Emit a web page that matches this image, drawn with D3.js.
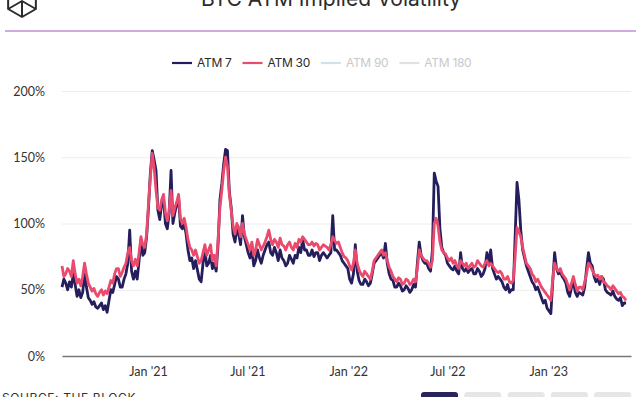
<!DOCTYPE html>
<html>
<head>
<meta charset="utf-8">
<script src="https://cdn.jsdelivr.net/npm/d3@7"></script>
<style>
  body { margin: 0; background: #fff; }
  svg { display: block; }
</style>
</head>
<body>
<div id="chart"></div>
<script>
// series (twice-weekly samples)
const startDate = new Date(2020, 6, 28)
const stepDays = 3.43

const atm7 = [52,58, 55,50, 56,52, 62,54, 45,50,
  44,48, 62,52, 44,42, 39,41, 37,36,
  38,40, 35,38, 33,42, 50,48, 54,60,
  58,52, 52,58, 62,70, 95,64, 58,64,
  58,72, 88,76, 78,90, 112,138, 155,148,
  140,110, 103,115, 118,100, 96,108, 140,100,
  108,114, 120,98, 96,100, 92,80, 72,74,
  66,72, 65,58, 56,70, 80,68, 70,76,
  66,70, 64,84, 118,130, 145,156, 155,124,
  112,92, 86,96, 92,84, 106,90, 84,78,
  74,80, 68,72, 80,74, 70,76, 80,84,
  86,78, 76,82, 78,72, 80,74, 72,68,
  70,76, 73,70, 76,74, 82,78, 88,80,
  80,76, 76,80, 75,78, 78,72, 76,78,
  76,74, 76,78, 106,80, 80,78, 76,72,
  70,68, 66,58, 55,62, 84,64, 57,54,
  54,58, 56,53, 55,62, 70,72, 74,76,
  78,74, 85,70, 62,58, 57,52, 52,55,
  53,49, 50,53, 51,48, 50,54, 52,70,
  86,76, 72,70, 70,66, 64,80, 138,132,
  128,96, 82,78, 76,70, 68,66, 65,68,
  64,62, 78,66, 64,66, 63,65, 66,62,
  62,66, 64,60, 62,66, 78,70, 80,66,
  62,58, 60,58, 56,52, 50,54, 48,50,
  50,90, 131,118, 95,80, 74,68, 64,60,
  56,54, 50,52, 48,44, 40,42, 36,34,
  32,56, 78,66, 62,64, 60,58, 55,48,
  45,52, 56,48, 45,48, 47,46, 52,66,
  78,70, 68,60, 56,58, 54,60, 58,50,
  48,47, 46,49, 45,43, 42,44, 38,40,
  40]

const atm30 = [68,60, 62,66, 64,60, 72,62, 55,58,
  53,60, 70,62, 55,52, 49,51, 47,45,
  48,50, 46,49, 47,52, 57,55, 62,66,
  66,60, 63,67, 70,78, 82,72, 68,73,
  68,78, 90,84, 82,92, 115,135, 153,142,
  125,112, 110,118, 122,108, 102,110, 125,106,
  112,116, 122,104, 100,104, 97,88, 82,80,
  76,80, 75,70, 72,78, 84,76, 80,84,
  72,76, 68,88, 112,125, 140,150, 143,122,
  110,98, 92,100, 97,90, 100,92, 88,84,
  80,86, 76,80, 88,84, 80,83, 86,90,
  95,88, 84,88, 86,82, 89,84, 83,80,
  84,86, 82,80, 85,82, 88,86, 90,88,
  86,84, 84,86, 83,85, 84,80, 82,84,
  83,82, 80,84, 90,87, 85,86, 82,78,
  75,74, 72,68, 65,70, 80,70, 65,62,
  60,64, 62,60, 58,64, 72,74, 76,78,
  80,76, 78,72, 67,64, 60,58, 56,59,
  58,54, 55,58, 57,54, 55,58, 56,66,
  80,76, 74,72, 72,70, 67,72, 100,104,
  98,86, 80,78, 77,74, 72,74, 70,72,
  68,66, 72,70, 68,70, 66,68, 70,67,
  68,72, 70,68, 67,70, 72,68, 70,68,
  66,64, 63,64, 62,58, 58,60, 56,55,
  57,75, 97,94, 90,82, 76,70, 68,66,
  62,60, 56,58, 55,52, 50,48, 46,44,
  42,58, 70,66, 64,66, 62,60, 58,54,
  50,55, 60,54, 49,52, 52,50, 56,62,
  70,68, 65,62, 60,61, 58,60, 56,55,
  53,52, 50,53, 51,49, 47,48, 45,44,
  42]

const seriesNames = ['ATM 7', 'ATM 30', 'ATM 90', 'ATM 180']
const seriesColors = ['#241f5c', '#ea4a6e', '#cfe2e8', '#e2e2e2']
const seriesVisible = [true, true, false, false]
const yTicks = [0, 50, 100, 150, 200]
const buttonLabels = ['1M', '3M', '6M', '1Y', 'All']

const dates = atm7.map((d, i) => new Date(startDate.getTime() + i * stepDays * 864e5))

const width = 640
const height = 397
const padding = { top: 91, right: 9, bottom: 41, left: 62 }

const svg = d3.select('#chart').append('svg')
  .attr('width', width)
  .attr('height', height)

// header
const logo = svg.append('g')
  .attr('transform', 'translate(22,1)')
  .attr('fill', 'none')
  .attr('stroke', '#2b2b2b')
  .attr('stroke-width', 2)
  .attr('stroke-linejoin', 'round')
const r = 16
const hex = d3.range(6).map(k => {
  const a = Math.PI / 6 + k * Math.PI / 3
  return [r * Math.cos(a), r * Math.sin(a)]
})
logo.append('path').attr('d', 'M' + hex.map(p => p.join(',')).join('L') + 'Z')
logo.append('path').attr('d', `M${hex[0].join(',')}L0,0L${hex[2].join(',')}M0,0L0,${r}`)

svg.append('text')
  .attr('x', 331)
  .attr('y', 6)
  .attr('text-anchor', 'middle')
  .attr('font-family', 'Inter, Roboto, sans-serif')
  .attr('font-size', 21)
  .attr('fill', '#2b2b2b')
  .text('BTC ATM Implied Volatility')

svg.append('line')
  .attr('x1', 5).attr('x2', 636)
  .attr('y1', 31).attr('y2', 31)
  .attr('stroke', '#9e58c2')
  .attr('stroke-width', 1.2)

// legend
const legend = svg.append('g').attr('transform', 'translate(172,63)')
let lx = 0
seriesNames.forEach((name, i) => {
  const item = legend.append('g').attr('transform', `translate(${lx},0)`)
  item.append('line')
    .attr('x1', 0).attr('x2', 20)
    .attr('y1', 0).attr('y2', 0)
    .attr('stroke', seriesColors[i])
    .attr('stroke-width', 2.2)
  const t = item.append('text')
    .attr('x', 25)
    .attr('dy', '0.35em')
    .attr('font-family', 'Inter, Roboto, sans-serif')
    .attr('font-size', 12)
    .attr('letter-spacing', '-0.3')
    .attr('fill', seriesVisible[i] ? '#2b2b2b' : '#c9c9c9')
    .text(name)
  lx += 25 + t.node().getComputedTextLength() + 11
})

// scales
const x = d3.scaleTime()
  .domain([new Date(2020, 6, 28), new Date(2023, 5, 1)])
  .range([padding.left, width - padding.right])

const y = d3.scaleLinear()
  .domain([0, 200])
  .range([height - padding.bottom, padding.top])

// grid + y labels
const yAxis = svg.append('g')
  .attr('transform', `translate(${padding.left},0)`)
  .call(d3.axisLeft(y).tickValues(yTicks).tickSize(-(width - padding.left - padding.right)).tickPadding(17).tickFormat(d => d + '%'))
yAxis.select('.domain').remove()
yAxis.selectAll('line').attr('stroke', '#ececec')
yAxis.selectAll('text')
  .attr('font-family', 'Lato, sans-serif')
  .attr('font-size', 12.5)
  .attr('fill', '#333')

// x axis
const xAxis = svg.append('g')
  .attr('transform', `translate(0,${y(0)})`)
  .call(d3.axisBottom(x).ticks(d3.timeMonth.every(6)).tickSize(0).tickPadding(11).tickFormat(d3.timeFormat("%b '%y")))
xAxis.select('.domain')
  .attr('stroke', '#777')
  .attr('stroke-width', 1.6)
xAxis.selectAll('text')
  .attr('font-family', 'Lato, sans-serif')
  .attr('font-size', 12.5)
  .attr('fill', '#333')

// lines: ATM 7 under ATM 30
const line = d3.line()
  .x((d, i) => x(dates[i]))
  .y(d => y(d))

svg.append('path')
  .datum(atm7)
  .attr('d', line)
  .attr('fill', 'none')
  .attr('stroke', seriesColors[0])
  .attr('stroke-width', 2.8)
  .attr('stroke-linejoin', 'round')

svg.append('path')
  .datum(atm30)
  .attr('d', line)
  .attr('fill', 'none')
  .attr('stroke', seriesColors[1])
  .attr('stroke-width', 2.8)
  .attr('stroke-linejoin', 'round')

// footer
svg.append('text')
  .attr('x', 2)
  .attr('y', 402)
  .attr('font-family', 'Inter, Roboto, sans-serif')
  .attr('font-size', 12)
  .attr('letter-spacing', '0.6')
  .attr('fill', '#333')
  .text('SOURCE: THE BLOCK')

const btn = svg.append('g')
buttonLabels.forEach((b, i) => {
  btn.append('rect')
    .attr('x', 421 + i * 43.3)
    .attr('y', 392)
    .attr('width', 37)
    .attr('height', 22)
    .attr('rx', 3)
    .attr('fill', i === 0 ? '#2a2559' : '#e6e6e6')
})
</script>
</body>
</html>
